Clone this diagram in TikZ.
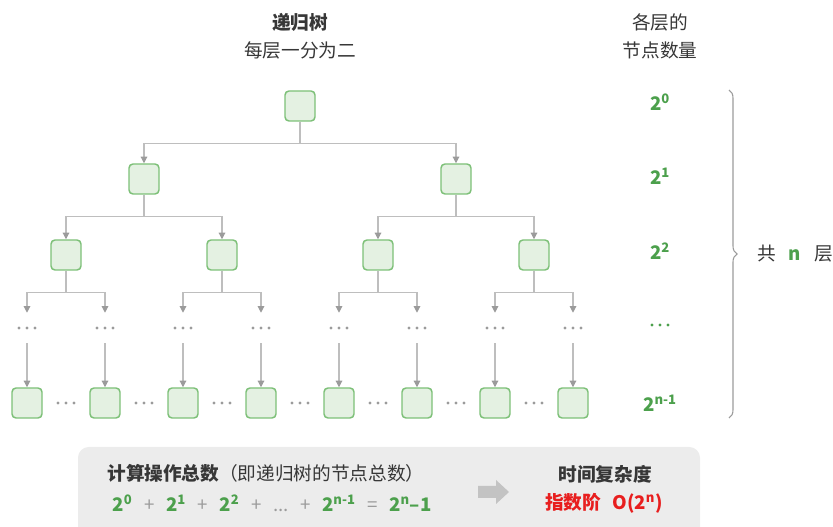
\documentclass[tikz,border=0pt]{standalone}
\usepackage{fontspec}
\setmainfont{Noto Sans CJK SC}
\usetikzlibrary{arrows.meta, positioning, decorations.pathreplacing}

\definecolor{boxfill}{RGB}{228,241,226}
\definecolor{boxline}{RGB}{125,192,120}
\definecolor{numgreen}{RGB}{76,160,76}
\definecolor{linegray}{RGB}{190,190,190}
\definecolor{tipgray}{RGB}{155,155,155}
\definecolor{txtgray}{RGB}{55,55,55}
\definecolor{hotred}{RGB}{232,30,30}
\definecolor{panel}{RGB}{236,236,236}
\definecolor{bigarrow}{RGB}{195,195,195}

\newcommand\powtwo[1]{{\bfseries\color{numgreen}2\textsuperscript{#1}}}
\newcommand\opsym[1]{\hspace{0.62em}{\color{tipgray}#1}\hspace{0.62em}}

\tikzset{more/.style={minimum width=18pt, minimum height=22.5pt, inner sep=0pt,
  path picture={\foreach \k in {-1,0,1} \fill[#1] ([xshift=\k*6pt]path picture bounding box.center) circle (1.3pt);}},
  more/.default=tipgray}

\begin{document}
\begin{tikzpicture}[x=0.75pt, y=-0.75pt, font=\fontsize{14}{17}\selectfont, text=txtgray]
\tikzstyle{q}=[rectangle, rounded corners=3pt, minimum size=22.5pt, inner sep=0pt, line width=1.1pt, draw=boxline, fill=boxfill]
\tikzstyle{connect}=[-{Triangle[length=5pt,width=5pt,color=tipgray]}, line width=0.8pt, draw=linegray]
\tikzstyle{num}=[font=\fontsize{14}{17}\selectfont\bfseries, text=numgreen]
\useasboundingbox (0,0) rectangle (833,527);

% headings
\node[font=\fontsize{14}{17}\selectfont\bfseries] (title) at (300,22) {递归树};
\node (split) at (300,50) {每层一分为二};
\node (counthead) at (660,22) {各层的};
\node (counthead2) at (660,50) {节点数量};

% tree
\node[q] (r) at (300,106) {};
\node[q] (a1) at (144,179) {};
\node[q] (a2) at (456,179) {};
\node[q] (b1) at (66,255) {};
\node[q] (b2) at (222,255) {};
\node[q] (b3) at (378,255) {};
\node[q] (b4) at (534,255) {};
\foreach \i/\x in {1/27, 2/105, 3/183, 4/261, 5/339, 6/417, 7/495, 8/573} {
  \node[more] (d\i) at (\x,328) {};
  \node[q] (c\i) at (\x,403) {};
  \draw[connect] (d\i.south) -- (c\i.north);
}
\foreach \i/\x in {1/66, 2/144, 3/222, 4/300, 5/378, 6/456, 7/534}
  \node[more] (e\i) at (\x,403) {};

\draw[connect] (r.south) -- ++(0,22) -| (a1.north);
\draw[connect] (r.south) -- ++(0,22) -| (a2.north);
\draw[connect] (a1.south) -- ++(0,22) -| (b1.north);
\draw[connect] (a1.south) -- ++(0,22) -| (b2.north);
\draw[connect] (a2.south) -- ++(0,22) -| (b3.north);
\draw[connect] (a2.south) -- ++(0,22) -| (b4.north);
\draw[connect] (b1.south) -- ++(0,22) -| (d1.north);
\draw[connect] (b1.south) -- ++(0,22) -| (d2.north);
\draw[connect] (b2.south) -- ++(0,22) -| (d3.north);
\draw[connect] (b2.south) -- ++(0,22) -| (d4.north);
\draw[connect] (b3.south) -- ++(0,22) -| (d5.north);
\draw[connect] (b3.south) -- ++(0,22) -| (d6.north);
\draw[connect] (b4.south) -- ++(0,22) -| (d7.north);
\draw[connect] (b4.south) -- ++(0,22) -| (d8.north);

% counts per level
\node[num] (n0) at (660,102) {2\textsuperscript{0}};
\node[num] (n1) at (660,176) {2\textsuperscript{1}};
\node[num] (n2) at (660,251) {2\textsuperscript{2}};
\node[more=numgreen] (nd) at (660,325) {};
\node[num] (nl) at (660,403) {2\textsuperscript{n-1}};

\coordinate (btop) at (729,90);
\coordinate (bbot) at (729,418);
\draw[decorate, decoration={brace, amplitude=6pt}, draw=tipgray, line width=0.8pt] (btop) -- (bbot);
\node (layers) at (795,254) {共\hspace{0.7em}{\bfseries\color{numgreen}n}\hspace{0.7em}层};

% summary panel
\fill[panel, rounded corners=8pt] (78,447) rectangle (700,545);
\node (ops) at (266,473) {{\bfseries 计算操作总数}（即递归树的节点总数）};
\node (sum) at (272,503) {\powtwo{0}\opsym{+}\powtwo{1}\opsym{+}\powtwo{2}\opsym{+}{\color{tipgray}...}\opsym{+}\powtwo{n-1}\opsym{=}{\bfseries\color{numgreen}2\textsuperscript{n}–1}};
\fill[bigarrow] (478,486) -- (496,486) -- (496,480) -- (509,492) -- (496,504) -- (496,498) -- (478,498) -- cycle;
\node[font=\fontsize{14}{17}\selectfont\bfseries] (cost) at (605,474) {时间复杂度};
\node[font=\fontsize{14}{17}\selectfont\bfseries, text=hotred] (order) at (604,503) {指数阶\hspace{0.6em}O(2\textsuperscript{n})};
\end{tikzpicture}
\end{document}
